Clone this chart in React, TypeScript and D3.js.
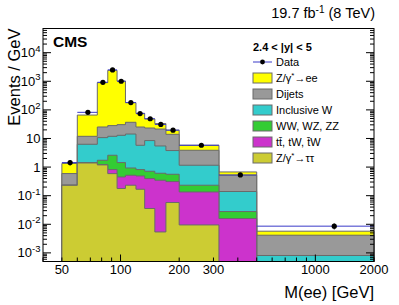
import React from 'react';
import * as d3 from 'd3';

// ---- data ----
const binEdges = [50, 60, 76, 86, 96, 106, 120, 133, 150, 171, 200, 320, 500, 2000];
const zee = [0.74, 54, 870, 2380, 990, 142, 50.7, 24.8, 11.7, 5.6, 1.91, 0.158, 0.00158];
const dijets = [0.36, 5.63, 14.5, 16.3, 17.6, 22.5, 19.4, 14.8, 15.9, 10.2, 2.71, 0.378, 0.00334];
const inclusiveW = [0.002, 4.85, 8.97, 9.31, 11.46, 13.37, 4.96, 7.73, 4.86, 3.22, 0.928, 0.112, 0.00066];
const diboson = [0.001, 0.02, 0.52, 1.77, 0.988, 0.412, 0.33, 0.317, 0.261, 0.249, 0.097, 0.012, 0.00005];
const topPair = [0.0005, 0.01, 0.02, 0.23, 0.274, 0.286, 0.322, 0.361, 0.342, 0.254, 0.1255, 0.0158, 0.0001];
const ztautau = [0.23, 1.39, 1.19, 0.59, 0.178, 0.232, 0.168, 0.0356, 0.0054, 0.0577, 0.0095, 0.0001, 0.000001];
const dataMass = [55.1, 68, 81.2, 91, 100.8, 113, 126, 142, 161, 186, 260, 412, 1250];
const dataValues = [1.44, 82, 920, 2500, 1000, 180, 74, 49, 31, 19.5, 5.8, 0.53, 0.0086];
const dataErrors = [0.3, 2, 7, 12, 7, 3, 2, 1.5, 1.1, 0.8, 0.25, 0.08, 0.002];
const xTickLabels = [50, 100, 200, 300, 1000, 2000];
const yTickExponents = [-3, -2, -1, 0, 1, 2, 3, 4];

const layers = [
  { name: 'Z/γ*→ττ', values: ztautau, color: '#cccc33' },
  { name: 'tt̄, tW, t̄W', values: topPair, color: '#cc33cc' },
  { name: 'WW, WZ, ZZ', values: diboson, color: '#33cc33' },
  { name: 'Inclusive W', values: inclusiveW, color: '#33cccc' },
  { name: 'Dijets', values: dijets, color: '#999999' },
  { name: 'Z/γ*→ee', values: zee, color: '#ffff00' },
];

const W = 399;
const H = 305;
const M = { left: 43, right: 374, top: 28.5, bottom: 261.5 };
const FONT = '"Liberation Sans", Arial, Helvetica, sans-serif';

export default function App() {
  const x = d3.scaleLog().domain([40, 2000]).range([M.left, M.right]);
  const yMin = 5e-4;
  const y = d3.scaleLog().domain([yMin, 7e4]).range([M.bottom, M.top]).clamp(true);

  // cumulative sums
  const cums: number[][] = [];
  layers.forEach((l, k) => {
    cums.push(l.values.map((v, i) => v + (k > 0 ? cums[k - 1][i] : 0)));
  });

  const line = d3.line<[number, number]>().x((d) => x(d[0])).y((d) => y(d[1]));
  const stepPath = (cum: number[]) => {
    const pts: [number, number][] = [[binEdges[0], yMin]];
    cum.forEach((v, i) => {
      pts.push([binEdges[i], v]);
      pts.push([binEdges[i + 1], v]);
    });
    pts.push([binEdges[binEdges.length - 1], yMin]);
    return line(pts) + 'Z';
  };

  // ticks
  const xMinor: number[] = [];
  [10, 100, 1000].forEach((dec) => {
    for (let m = 1; m <= 9; m++) {
      const v = m * dec;
      if (v >= 40 && v <= 2000) xMinor.push(v);
    }
  });
  const yTicks: { v: number; major: boolean }[] = [];
  for (let e = -4; e <= 4; e++) {
    for (let m = 1; m <= 9; m++) {
      const v = m * Math.pow(10, e);
      if (v >= yMin && v <= 7e4) yTicks.push({ v, major: m === 1 });
    }
  }

  const legendX = 253;
  const legendRows = [
    { label: 'Data', type: 'data' },
    ...layers.slice().reverse().map((l) => ({ label: l.name, type: 'box', color: l.color })),
  ];
  const rowY = (i: number) => 62 + i * 16;

  const renderLegendLabel = (label: string) => {
    if (label.startsWith('Z/γ*')) {
      const rest = label.slice(4);
      return (
        <>
          Z/γ<tspan fontSize={8} dy={-4}>*</tspan>
          <tspan dy={4}>{rest}</tspan>
        </>
      );
    }
    return label;
  };

  return (
    <svg width={W} height={H} style={{ position: 'absolute', left: 0, top: 0, background: '#fff' }} fontFamily={FONT}>
      {/* stacked histograms, drawn from the top of the stack down */}
      {cums
        .map((cum, k) => (
          <path key={k} d={stepPath(cum)} fill={layers[k].color} stroke="#6a6a6a" strokeWidth={1} />
        ))
        .reverse()}

      {/* data */}
      {dataValues.map((v, i) => (
        <g key={i}>
          <line x1={x(binEdges[i])} x2={x(binEdges[i + 1])} y1={y(v)} y2={y(v)} stroke="#3a3ac8" strokeWidth={1} />
          <line x1={x(dataMass[i])} x2={x(dataMass[i])} y1={y(v - dataErrors[i])} y2={y(v + dataErrors[i])} stroke="#000" strokeWidth={1} />
          <circle cx={x(dataMass[i])} cy={y(v)} r={2.6} fill="#000" />
        </g>
      ))}

      {/* frame */}
      <rect x={M.left} y={M.top} width={M.right - M.left} height={M.bottom - M.top} fill="none" stroke="#000" strokeWidth={1} />

      {/* x ticks */}
      {xMinor.map((v) => {
        const major = v === 100 || v === 1000;
        return (
          <line key={v} x1={x(v)} x2={x(v)} y1={M.bottom} y2={M.bottom - (major ? 7 : 4)} stroke="#000" strokeWidth={1} />
        );
      })}
      {xTickLabels.map((v) => (
        <text key={v} x={x(v)} y={274} fontSize={13} textAnchor="middle">{v}</text>
      ))}

      {/* y ticks */}
      {yTicks.map(({ v, major }, i) => (
        <g key={i}>
          <line x1={M.left} x2={M.left + (major ? 8 : 4)} y1={y(v)} y2={y(v)} stroke="#000" strokeWidth={1} />
          <line x1={M.right} x2={M.right - (major ? 8 : 4)} y1={y(v)} y2={y(v)} stroke="#000" strokeWidth={1} />
        </g>
      ))}
      {yTickExponents.map((e) => {
        const ty = y(Math.pow(10, e)) + 4.5;
        if (e === 0) return <text key={e} x={40.5} y={ty} fontSize={13} textAnchor="end">1</text>;
        if (e === 1) return <text key={e} x={40.5} y={ty} fontSize={13} textAnchor="end">10</text>;
        return (
          <text key={e} x={40.5} y={ty} fontSize={13} textAnchor="end">
            10<tspan fontSize={9.5} dy={-5.5}>{e}</tspan>
          </text>
        );
      })}

      {/* axis titles */}
      <text x={374} y={298} fontSize={16.5} textAnchor="end">M(ee) [GeV]</text>
      <text transform={`translate(20,${M.top}) rotate(-90)`} fontSize={16.5} textAnchor="end">Events / GeV</text>

      {/* header */}
      <text x={375} y={18} fontSize={14.5} textAnchor="end">
        19.7 fb<tspan fontSize={10} dy={-5.5}>-1</tspan>
        <tspan dy={5.5}> (8 TeV)</tspan>
      </text>
      <text x={53} y={46.5} fontSize={15.5} fontWeight="bold">CMS</text>

      {/* legend */}
      <text x={legendX} y={50.5} fontSize={11} fontWeight="bold">2.4 &lt; |y| &lt; 5</text>
      {legendRows.map((r, i) => (
        <g key={i}>
          {r.type === 'data' ? (
            <>
              <line x1={legendX} x2={legendX + 19} y1={rowY(i)} y2={rowY(i)} stroke="#3a3ac8" strokeWidth={1} />
              <circle cx={legendX + 9.5} cy={rowY(i)} r={2.4} fill="#000" />
            </>
          ) : (
            <rect x={legendX} y={rowY(i) - 5} width={19} height={10} fill={(r as any).color} stroke="#6a6a6a" strokeWidth={1} />
          )}
          <text x={276} y={rowY(i) + 4} fontSize={11}>{renderLegendLabel(r.label)}</text>
        </g>
      ))}
    </svg>
  );
}
